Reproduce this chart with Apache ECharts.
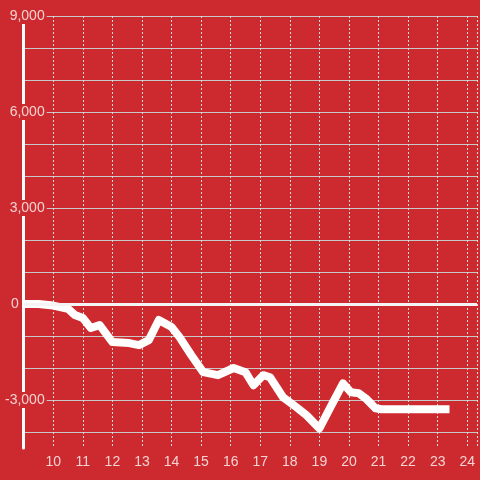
<!DOCTYPE html>
<html>
<head>
<meta charset="utf-8">
<script src="https://cdn.jsdelivr.net/npm/echarts@6/dist/echarts.min.js"></script>
<style>html,body{margin:0;padding:0;background:#cd2a2f;}#c{width:480px;height:480px;}</style>
</head>
<body>
<div id="c"></div>
<script>
const xValues = [9.0, 9.5, 10.0, 10.5, 10.73, 11.0, 11.27, 11.57, 12.0, 12.57, 12.9, 13.23, 13.57, 14.0, 14.27, 14.67, 15.07, 15.57, 16.1, 16.5, 16.77, 17.1, 17.33, 17.77, 18.23, 18.57, 19.0, 19.37, 19.8, 20.07, 20.33, 20.57, 20.9, 21.1, 23.4];
const yValues = [0, 0, -50, -150, -345, -440, -750, -660, -1190, -1220, -1285, -1130, -500, -720, -1035, -1600, -2130, -2225, -2000, -2130, -2540, -2225, -2290, -2915, -3230, -3480, -3890, -3230, -2480, -2760, -2790, -2950, -3260, -3290, -3290];
const yLabelValues = [9000, 6000, 3000, 0, -3000];
const xLabelValues = [10, 11, 12, 13, 14, 15, 16, 17, 18, 19, 20, 21, 22, 23, 24];

const RED = '#cd2a2f';
const TXT = '#f3d3d3';
const chart = echarts.init(document.getElementById('c'));
chart.setOption({
  backgroundColor: RED,
  animation: false,
  grid: {left: 20, right: 0, top: 16, bottom: 32, containLabel: false},
  xAxis: {
    type: 'value', min: 9, max: 24.33, interval: 1,
    axisLine: {show: false},
    axisTick: {show: false},
    axisLabel: {
      color: TXT, fontSize: 14, fontFamily: 'Liberation Sans, Arial, sans-serif', margin: 7,
      formatter: v => xLabelValues.indexOf(v) >= 0 ? String(v) : ''
    },
    splitLine: {show: true, lineStyle: {color: '#dcdcdc', width: 1, type: [2, 2]}}
  },
  yAxis: {
    type: 'value', min: -4500, max: 9000, interval: 500,
    axisLine: {show: true, lineStyle: {color: '#ffffff', width: 3}},
    axisTick: {show: false},
    axisLabel: {
      inside: true, align: 'right', margin: 23,
      color: TXT, fontSize: 14, fontFamily: 'Liberation Sans, Arial, sans-serif',
      formatter: v => {
        if (yLabelValues.indexOf(v) < 0) return '';
        if (v === 0) return '{z|0}{sp|}';
        return '{n|' + v.toLocaleString('en-US') + '}';
      },
      rich: {
        n: {color: TXT, fontSize: 14, fontFamily: 'Liberation Sans, Arial, sans-serif', backgroundColor: RED, padding: [1, 2, 1, 2]},
        z: {color: TXT, fontSize: 14, fontFamily: 'Liberation Sans, Arial, sans-serif', padding: [1, 1, 1, 2]},
        sp: {width: 27}
      }
    },
    splitLine: {show: true, lineStyle: {color: ['rgba(0,0,0,0)', '#c8c8c8'], width: 1}}
  },
  series: [{
    type: 'line',
    data: xValues.map((x, i) => [x, yValues[i]]),
    symbol: 'none',
    lineStyle: {color: '#ffffff', width: 8, join: 'round', cap: 'butt'},
    z: 3,
    markLine: {
      silent: true, symbol: 'none', label: {show: false},
      lineStyle: {color: '#f4f4f4', width: 3, type: 'solid'},
      data: [{yAxis: 0}]
    }
  }]
});
</script>
</body>
</html>
